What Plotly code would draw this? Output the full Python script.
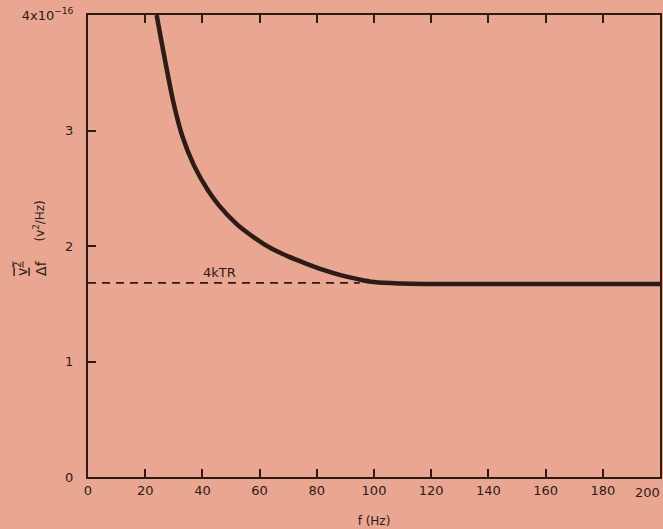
import plotly.graph_objects as go

# curve
freq = [24, 27, 30, 33, 37, 42, 46, 52, 58, 64, 70, 76, 82, 88, 94, 100, 110, 130, 200]
noise = [4.0, 3.60, 3.23, 2.95, 2.70, 2.48, 2.345, 2.19, 2.075, 1.98, 1.91, 1.85, 1.795,
         1.75, 1.715, 1.688, 1.675, 1.67, 1.67]

johnson_f = [0, 95]
johnson_level = [1.68, 1.68]

x_ticks = [0, 20, 40, 60, 80, 100, 120, 140, 160, 180, 200]
x_labels = ["0", "20", "40", "60", "80", "100", "120", "140", "160", "180", ""]
y_ticks = [0, 1, 2, 3, 4]
y_labels = ["0", "1", "2", "3", "4x10<sup>\u221216</sup>"]

bg = "#e9a690"
ink = "#2b1c17"
font = dict(family="DejaVu Sans", size=13, color=ink)

fig = go.Figure()
fig.add_trace(go.Scatter(x=johnson_f, y=johnson_level, mode="lines",
                         line=dict(color=ink, width=1.8, dash="8px,6px"),
                         showlegend=False))
fig.add_trace(go.Scatter(x=freq, y=noise, mode="lines",
                         line=dict(color=ink, width=4.5, shape="spline", smoothing=1),
                         showlegend=False))

fig.add_annotation(x=46, y=1.68, text="4kTR", showarrow=False, yanchor="bottom",
                   yshift=1, font=dict(family="DejaVu Sans", size=13, color=ink))
# last x label pulled inside the page
fig.add_annotation(x=200, y=0, text="200", showarrow=False, xanchor="right",
                   yanchor="top", yshift=-6, xshift=2, font=font)
# stacked fraction of the y title, then the unit above it
fig.add_annotation(xref="paper", yref="paper", x=-0.101, y=0.453,
                   text="<span style='text-decoration:overline underline'>v<sup>2</sup></span>"
                        "<br>\u0394f",
                   textangle=-90, showarrow=False, xanchor="center",
                   font=dict(family="DejaVu Sans", size=14, color=ink))
fig.add_annotation(xref="paper", yref="paper", x=-0.086, y=0.555,
                   text="(v<sup>2</sup>/Hz)",
                   textangle=-90, showarrow=False, xanchor="center",
                   font=dict(family="DejaVu Sans", size=12, color=ink))

fig.update_xaxes(range=[0, 200], tickvals=x_ticks, ticktext=x_labels, ticks="inside",
                 ticklen=8, tickwidth=2, tickcolor=ink, showline=True, linecolor=ink,
                 linewidth=2, mirror="allticks", showgrid=False, zeroline=False,
                 tickfont=font, ticklabeloverflow="allow",
                 title=dict(text="f (Hz)", font=dict(family="DejaVu Sans", size=12,
                                                     color=ink), standoff=20))
fig.update_yaxes(range=[0, 4], tickvals=y_ticks, ticktext=y_labels, ticks="inside",
                 ticklen=8, tickwidth=2, tickcolor=ink, showline=True, linecolor=ink,
                 linewidth=2, mirror=True, showgrid=False, zeroline=False,
                 tickfont=font, ticklabelstandoff=10, ticklabeloverflow="allow")

fig.update_layout(width=663, height=529, paper_bgcolor=bg, plot_bgcolor=bg,
                  margin=dict(l=88, r=3, t=15, b=52, autoexpand=False), font=font)

# drop the default 8px body margin so the figure fills the window exactly
fig.write_html("out.html", config={"displayModeBar": False},
               post_script="document.body.style.margin='0';"
                           "document.body.style.background='%s';" % bg)
